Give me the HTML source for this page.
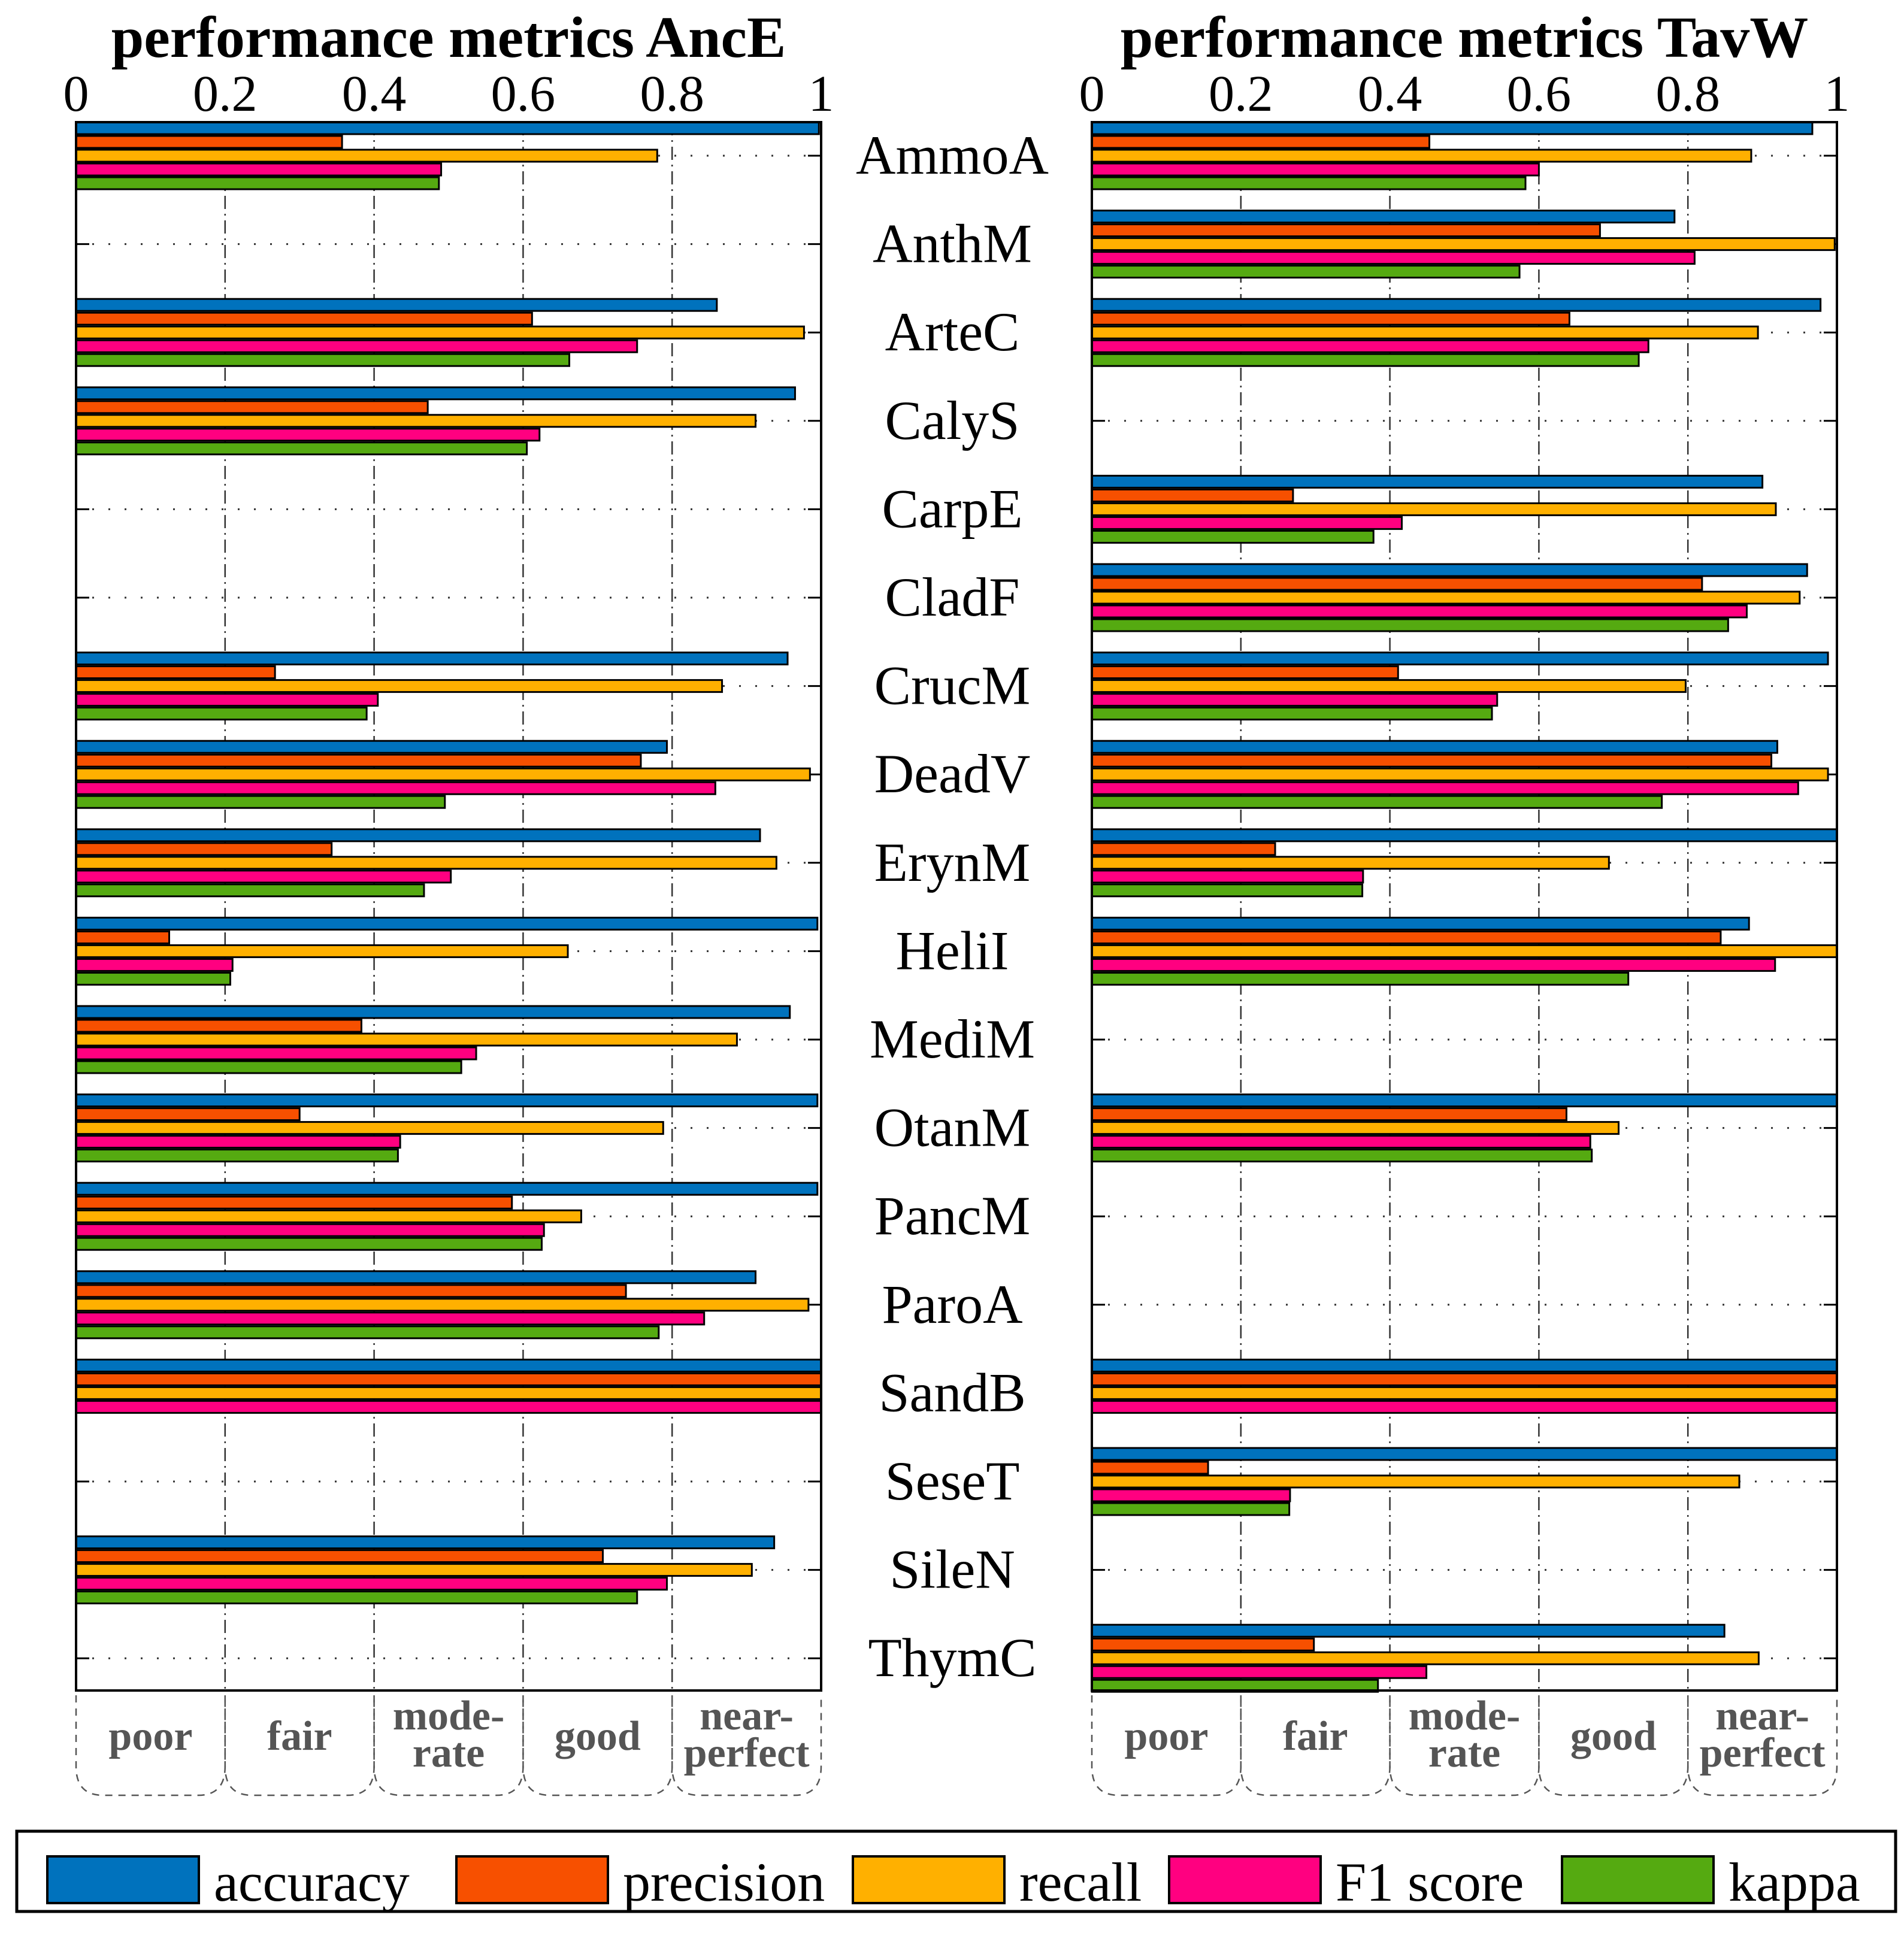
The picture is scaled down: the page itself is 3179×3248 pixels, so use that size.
<!DOCTYPE html>
<html><head><meta charset="utf-8"><style>
html,body{margin:0;padding:0;background:#fff;}
svg{display:block;}
text{font-family:"Liberation Serif",serif;}
</style></head><body>
<svg id="chart" width="3179" height="3248" viewBox="0 0 3179 3248" xmlns="http://www.w3.org/2000/svg"></svg>
<script>
const categories=["AmmoA","AnthM","ArteC","CalyS","CarpE","CladF","CrucM","DeadV","ErynM","HeliI","MediM","OtanM","PancM","ParoA","SandB","SeseT","SileN","ThymC"];
const seriesNames=["accuracy","precision","recall","F1 score","kappa"];
const seriesColors=["#0072BD","#F75000","#FFB000","#FF0080","#55AA11"];
const tickLabels=["0","0.2","0.4","0.6","0.8","1"];
const tickValues=[0,0.2,0.4,0.6,0.8,1];
const zoneLabels=[["poor"],["fair"],["mode-","rate"],["good"],["near-","perfect"]];
// AncE values per series (null = missing)
const anceAccuracy=[0.997,null,0.86,0.965,null,null,0.955,0.793,0.918,0.995,0.958,0.995,0.995,0.912,1,null,0.937,null];
const ancePrecision=[0.357,null,0.612,0.472,null,null,0.267,0.758,0.343,0.125,0.383,0.3,0.585,0.738,1,null,0.707,null];
const anceRecall=[0.78,null,0.977,0.912,null,null,0.867,0.985,0.94,0.66,0.887,0.788,0.678,0.983,1,null,0.907,null];
const anceF1=[0.49,null,0.753,0.622,null,null,0.405,0.858,0.503,0.21,0.537,0.435,0.628,0.843,1,null,0.793,null];
const anceKappa=[0.487,null,0.662,0.605,null,null,0.39,0.495,0.467,0.207,0.517,0.432,0.625,0.782,null,null,0.753,null];
// TavW values
const tavwAccuracy=[0.967,0.782,0.978,null,0.9,0.96,0.988,0.92,1,0.882,null,1,null,null,1,1,null,0.849];
const tavwPrecision=[0.453,0.682,0.641,null,0.27,0.819,0.411,0.912,0.246,0.844,null,0.637,null,null,1,0.156,null,0.298];
const tavwRecall=[0.885,0.997,0.894,null,0.918,0.95,0.797,0.988,0.694,1,null,0.707,null,null,1,0.869,null,0.895];
const tavwF1=[0.6,0.809,0.747,null,0.416,0.879,0.544,0.948,0.364,0.917,null,0.669,null,null,1,0.266,null,0.449];
const tavwKappa=[0.582,0.574,0.734,null,0.378,0.854,0.537,0.765,0.363,0.72,null,0.671,null,null,null,0.265,null,0.384];

const NS="http://www.w3.org/2000/svg";
const svg=document.getElementById('chart');
function mk(tag,attrs,parent){const e=document.createElementNS(NS,tag);for(const k in attrs)e.setAttribute(k,attrs[k]);(parent||svg).appendChild(e);return e;}
const plotTop=204,plotBot=2823,tick0=260,tickStep=147.6;
function yCat(i){return tick0+i*tickStep;}
const barOff=[-46,-23,0,23,46],barH=20;

function drawPanel(x0,x1,title,series,key){
  const W=x1-x0;const xs=v=>x0+v*W;
  const g=mk('g',{});
  
  
  for(let k=1;k<5;k++){
    const l=mk('line',{x1:xs(tickValues[k]),x2:xs(tickValues[k]),y1:plotTop,y2:plotBot,stroke:'#333','stroke-width':2.5,'stroke-dasharray':'22 8 3 8'},g);
    
    
  }
  categories.forEach((c,i)=>{
    const y=yCat(i);
    const l=mk('line',{x1:x0,x2:x1,y1:y,y2:y,stroke:'#333','stroke-width':3,'stroke-dasharray':'3 24'},g);
    
    
    mk('line',{x1:x0,x2:x0+22,y1:y,y2:y,stroke:'#000','stroke-width':3},g);
    mk('line',{x1:x1-22,x2:x1,y1:y,y2:y,stroke:'#000','stroke-width':3},g);
  });
  categories.forEach((c,i)=>{
    series.forEach((arr,s)=>{
      const v=arr[i];if(v===null||v===undefined)return;
      const r=mk('rect',{x:x0,y:yCat(i)+barOff[s]-barH/2,width:xs(v)-x0,height:barH,fill:seriesColors[s],stroke:'#000','stroke-width':3},g);
      
      
    });
  });
  const f=mk('rect',{x:x0,y:plotTop,width:W,height:plotBot-plotTop,fill:'none',stroke:'#000','stroke-width':4},g);
  
  
  tickLabels.forEach((t,k)=>{
    const tx=mk('text',{x:xs(tickValues[k]),y:185,'font-size':86,'text-anchor':'middle',fill:'#000'},g);
    tx.textContent=t;
    
    
  });
  const tt=mk('text',{x:(x0+x1)/2,y:95,'font-size':98,'font-weight':'bold','text-anchor':'middle',fill:'#000'},g);
  tt.textContent=title;
  
  
  for(let k=0;k<5;k++){
    const a=xs(tickValues[k]),b=xs(tickValues[k+1]);
    const p=mk('path',{d:`M${a},${plotBot+8} L${a},2950 Q${a},2998 ${a+45},2998 L${b-45},2998 Q${b},2998 ${b},2950 L${b},${plotBot+8}`,fill:'none',stroke:'#555','stroke-width':2.5,'stroke-dasharray':'12 10'},g);
    
    
    const lines=zoneLabels[k];
    lines.forEach((ln,j)=>{
      const tx=mk('text',{x:(a+b)/2,y:lines.length===1?2922:(j===0?2888:2950),'font-size':70,'font-weight':'bold','text-anchor':'middle',fill:'#555'},g);
      tx.textContent=ln;
      
      
    });
  }
}
drawPanel(127,1371,'performance metrics AncE',[anceAccuracy,ancePrecision,anceRecall,anceF1,anceKappa],'ance');
drawPanel(1823,3067,'performance metrics TavW',[tavwAccuracy,tavwPrecision,tavwRecall,tavwF1,tavwKappa],'tavw');
categories.forEach((c,i)=>{
  const t=mk('text',{x:1590,y:yCat(i)+30,'font-size':92,'text-anchor':'middle',fill:'#000'});
  t.textContent=c;
  
  
});
const lg=mk('g',{});


mk('rect',{x:28,y:3058,width:3137,height:134,fill:'#fff',stroke:'#000','stroke-width':5},lg);
const swX=[79,762,1424,1952,2608];
seriesNames.forEach((n,s)=>{
  const r=mk('rect',{x:swX[s],y:3100,width:253,height:78,fill:seriesColors[s],stroke:'#000','stroke-width':4},lg);
  
  
  const t=mk('text',{x:swX[s]+278,y:3174,'font-size':92,fill:'#000'},lg);
  t.textContent=n;
  
  
});
</script>
</body></html>
